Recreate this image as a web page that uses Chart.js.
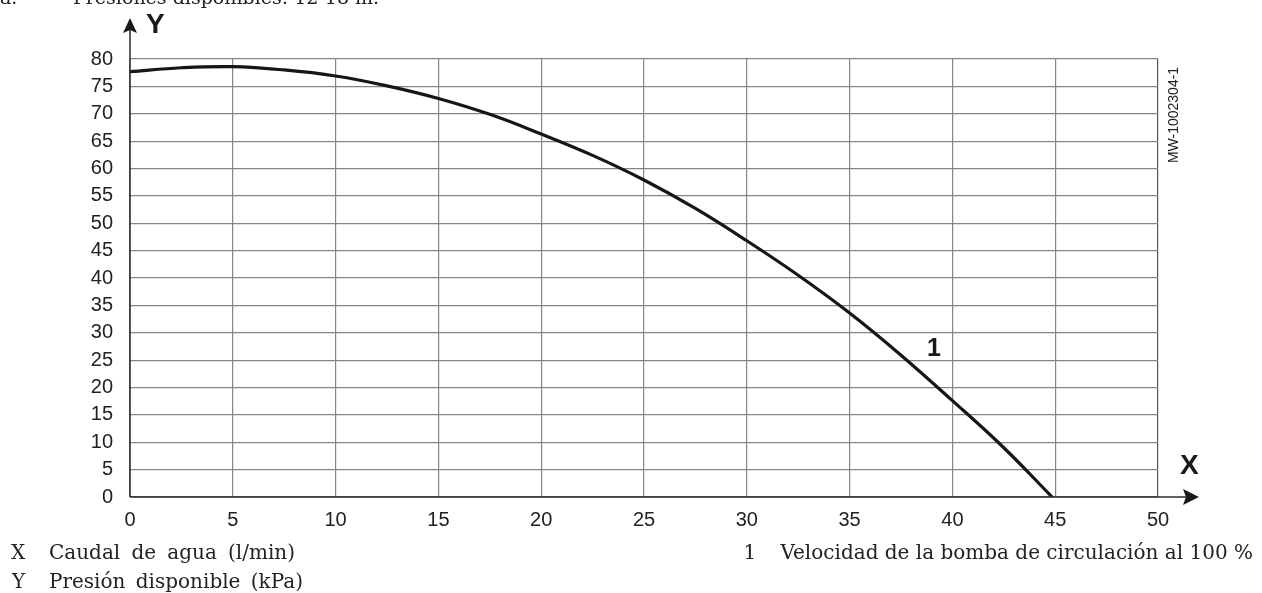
<!DOCTYPE html>
<html>
<head>
<meta charset="utf-8">
<script src="https://cdn.jsdelivr.net/npm/chart.js@4/dist/chart.umd.min.js"></script>
<style>
  body { margin: 0; background: #fff; }
  #wrap { width: 1262px; height: 593px; position: relative; }
</style>
</head>
<body>
<div id="wrap"><canvas id="pumpChart"></canvas></div>
<script>
// caudal (l/min) y presión disponible (kPa)
const flowValues = [0, 2.5, 5, 7.5, 10, 12.5, 15, 17.5, 20, 22.5, 25, 27.5, 30, 32.5, 35, 37.5, 40, 42.5, 44.85];
const pressureValues = [77.7, 78.4, 78.6, 78.0, 76.9, 75.1, 72.8, 69.9, 66.3, 62.4, 57.9, 52.7, 46.8, 40.5, 33.6, 25.9, 17.6, 9.0, 0];

const xTicks = [0, 5, 10, 15, 20, 25, 30, 35, 40, 45, 50];
const yTicks = [0, 5, 10, 15, 20, 25, 30, 35, 40, 45, 50, 55, 60, 65, 70, 75, 80];

const curveLabel = '1';
const legendLines = [
    ['X', 'Caudal de agua (l/min)'],
    ['Y', 'Presión disponible (kPa)']
];
const curveLegend = ['1', 'Velocidad de la bomba de circulación al 100 %'];
const figureCode = 'MW-1002304-1';
const topText = ['a.', 'Presiones disponibles: 12-18 m.'];

// texto con espacios ensanchados hasta un ancho dado
function spacedText(ctx, text, x, y, width) {
    const words = text.split(' ');
    const natural = ctx.measureText(text).width;
    const extra = words.length > 1 ? Math.max(0, (width - natural) / (words.length - 1)) : 0;
    const sp = ctx.measureText(' ').width + extra;
    let cx = x;
    words.forEach(w => {
        ctx.fillText(w, cx, y);
        cx += ctx.measureText(w).width + sp;
    });
}

// flechas, letras de ejes y textos
const decorPlugin = {
    id: 'decor',
    afterDraw(chart) {
        const ctx = chart.ctx;
        const xs = chart.scales.x, ys = chart.scales.y;
        const x0 = xs.getPixelForValue(0);
        const y0 = ys.getPixelForValue(0);
        ctx.save();

        // ejes prolongados
        ctx.strokeStyle = '#2b2b2b';
        ctx.lineWidth = 1.5;
        ctx.beginPath();
        ctx.moveTo(x0, y0);
        ctx.lineTo(x0, 24);
        ctx.moveTo(x0, y0);
        ctx.lineTo(1190, y0);
        ctx.stroke();

        ctx.fillStyle = '#1a1a1a';
        // flecha Y
        ctx.beginPath();
        ctx.moveTo(x0, 18);
        ctx.lineTo(x0 + 7, 33);
        ctx.lineTo(x0, 30);
        ctx.lineTo(x0 - 7, 33);
        ctx.closePath();
        ctx.fill();
        // flecha X
        ctx.beginPath();
        ctx.moveTo(1199, y0);
        ctx.lineTo(1183, y0 - 8);
        ctx.lineTo(1186, y0);
        ctx.lineTo(1183, y0 + 8);
        ctx.closePath();
        ctx.fill();

        ctx.font = 'bold 28px "Liberation Sans", Arial, sans-serif';
        ctx.textBaseline = 'alphabetic';
        ctx.textAlign = 'left';
        ctx.fillText('Y', 146, 33);
        ctx.fillText('X', 1180, 474);

        // etiqueta de la curva
        ctx.font = 'bold 25px "Liberation Sans", Arial, sans-serif';
        ctx.textAlign = 'center';
        ctx.fillText(curveLabel, 934, 356);

        // código de figura vertical
        ctx.save();
        ctx.translate(1178, 115);
        ctx.rotate(-Math.PI / 2);
        ctx.font = '14px "Liberation Sans", Arial, sans-serif';
        ctx.fillStyle = '#222';
        ctx.textAlign = 'center';
        ctx.fillText(figureCode, 0, 0);
        ctx.restore();

        // leyenda inferior
        ctx.font = '20px "DejaVu Serif", serif';
        ctx.fillStyle = '#222';
        ctx.textAlign = 'left';
        ctx.fillText(legendLines[0][0], 11, 559);
        spacedText(ctx, legendLines[0][1], 49, 559, 246);
        ctx.fillText(legendLines[1][0], 12, 588);
        spacedText(ctx, legendLines[1][1], 49, 588, 254);
        const rw = ctx.measureText(curveLegend[1]).width;
        const rx = 1253 - rw;
        ctx.fillText(curveLegend[0], rx - 37, 559);
        ctx.fillText(curveLegend[1], rx, 559);

        // texto superior cortado
        ctx.font = '19px "DejaVu Serif", serif';
        ctx.fillText(topText[0], 0, 4);
        ctx.fillText(topText[1], 73, 4);

        ctx.restore();
    }
};

const ctx = document.getElementById('pumpChart').getContext('2d');
new Chart(ctx, {
    type: 'scatter',
    data: {
        datasets: [{
            data: flowValues.map((x, i) => ({ x: x, y: pressureValues[i] })),
            showLine: true,
            borderColor: '#161616',
            borderWidth: 3.2,
            pointRadius: 0,
            tension: 0.4,
            fill: false
        }]
    },
    options: {
        responsive: true,
        maintainAspectRatio: false,
        devicePixelRatio: 1,
        animation: false,
        layout: { padding: { left: 0, top: 59, right: 104, bottom: 0 } },
        plugins: {
            legend: { display: false },
            tooltip: { enabled: false }
        },
        scales: {
            x: {
                type: 'linear',
                min: 0,
                max: 50,
                afterBuildTicks: s => { s.ticks = xTicks.map(v => ({ value: v })); },
                afterFit: s => { s.height = 96; },
                grid: {
                    color: c => c.tick && c.tick.value === 50 ? '#555' : '#858585',
                    lineWidth: 1.2,
                    drawTicks: false
                },
                border: { display: false },
                ticks: {
                    padding: 11,
                    color: '#222',
                    font: { family: '"Liberation Sans", Arial, sans-serif', size: 20 },
                    maxRotation: 0
                }
            },
            y: {
                type: 'linear',
                min: 0,
                max: 80,
                afterBuildTicks: s => { s.ticks = yTicks.map(v => ({ value: v })); },
                afterFit: s => { s.width = 130; },
                grid: {
                    color: '#858585',
                    lineWidth: 1.2,
                    drawTicks: false
                },
                border: { display: false },
                ticks: {
                    padding: 17,
                    color: '#222',
                    font: { family: '"Liberation Sans", Arial, sans-serif', size: 20 }
                }
            }
        }
    },
    plugins: [decorPlugin]
});
</script>
</body>
</html>
